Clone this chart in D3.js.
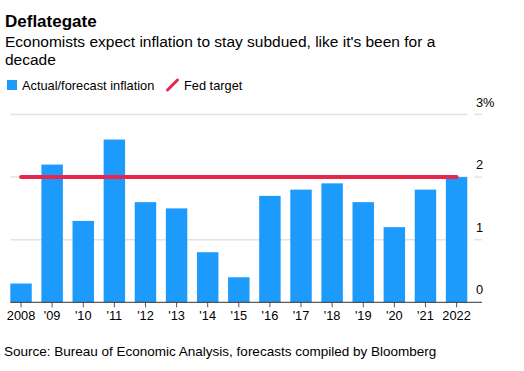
<!DOCTYPE html>
<html>
<head>
<meta charset="utf-8">
<script src="https://cdn.jsdelivr.net/npm/d3@7"></script>
<style>
  body { margin: 0; background: #fff; }
  svg text { font-family: "Liberation Sans", Arial, sans-serif; fill: #000; }
</style>
</head>
<body>
<div id="chart"></div>
<script>
// chart data
var years = ["2008","2009","2010","2011","2012","2013","2014","2015","2016","2017","2018","2019","2020","2021","2022"];
var yearLabels = ["2008","'09","'10","'11","'12","'13","'14","'15","'16","'17","'18","'19","'20","'21","2022"];
var inflation = [0.3, 2.2, 1.3, 2.6, 1.6, 1.5, 0.8, 0.4, 1.7, 1.8, 1.9, 1.6, 1.2, 1.8, 2.0];
var fedTarget = 2;
var yTicks = [0, 1, 2, 3];
var yTickLabels = ["0", "1", "2", "3%"];

var width = 524, height = 371;
var barColor = "#1d9bfd";
var redColor = "#e8264b";

var svg = d3.select("#chart").append("svg")
	.attr("width", width)
	.attr("height", height);

// titles
svg.append("text").attr("x", 5).attr("y", 27)
	.style("font-size", "17px").style("font-weight", "bold")
	.text("Deflategate");
svg.append("text").attr("x", 5).attr("y", 47)
	.style("font-size", "15.5px")
	.text("Economists expect inflation to stay subdued, like it's been for a");
svg.append("text").attr("x", 5).attr("y", 65)
	.style("font-size", "15.5px")
	.text("decade");

// legend
svg.append("rect").attr("x", 7).attr("y", 80).attr("width", 10).attr("height", 10).attr("fill", barColor);
svg.append("text").attr("x", 22).attr("y", 89.5).style("font-size", "12.8px").text("Actual/forecast inflation");
svg.append("line").attr("x1", 167.5).attr("y1", 90).attr("x2", 177.5).attr("y2", 80)
	.attr("stroke", redColor).attr("stroke-width", 3).attr("stroke-linecap", "round");
svg.append("text").attr("x", 184).attr("y", 89.5).style("font-size", "12.8px").text("Fed target");

// scales
var plotLeft = 10.3, plotRight = 467.3;
var x = d3.scaleBand().domain(years).range([plotLeft, plotRight]).paddingInner(0.31).paddingOuter(0);
var y = d3.scaleLinear().domain([0, 3]).range([302.3, 114.5]);

// gridlines
svg.selectAll("line.grid").data(yTicks.filter(function(d) { return d > 0; })).enter().append("line")
	.attr("class", "grid")
	.attr("x1", plotLeft).attr("x2", plotRight)
	.attr("y1", function(d) { return y(d); }).attr("y2", function(d) { return y(d); })
	.attr("stroke", "#e3e3e3").attr("stroke-width", 1.5);
svg.selectAll("line.gridtick").data(yTicks.filter(function(d) { return d > 0; })).enter().append("line")
	.attr("class", "gridtick")
	.attr("x1", 474).attr("x2", 482)
	.attr("y1", function(d) { return y(d); }).attr("y2", function(d) { return y(d); })
	.attr("stroke", "#e3e3e3").attr("stroke-width", 1.5);

// y labels
svg.selectAll("text.ylab").data(yTicks).enter().append("text")
	.attr("class", "ylab")
	.attr("x", 476).attr("y", function(d) { return y(d) - 8; })
	.style("font-size", "12.8px")
	.text(function(d, i) { return yTickLabels[i]; });

// bars
svg.selectAll("rect.bar").data(inflation).enter().append("rect")
	.attr("class", "bar")
	.attr("x", function(d, i) { return x(years[i]); })
	.attr("width", x.bandwidth())
	.attr("y", function(d) { return y(d); })
	.attr("height", function(d) { return y(0) - y(d); })
	.attr("fill", barColor);

// x axis
var xaxis = d3.axisBottom(x).tickSize(5).tickSizeOuter(0)
	.tickFormat(function(d, i) { return yearLabels[i]; });
var gx = svg.append("g").attr("class", "xaxis")
	.attr("transform", "translate(0," + y(0) + ")")
	.call(xaxis);
gx.select(".domain").remove();
gx.selectAll(".tick line").attr("stroke", "#555");
gx.selectAll(".tick text").attr("dy", "0.71em").attr("y", 9)
	.style("font-size", "12.8px").style("font-family", "'Liberation Sans', Arial, sans-serif").attr("fill", "#000");
svg.append("line").attr("x1", plotLeft).attr("x2", 482)
	.attr("y1", y(0)).attr("y2", y(0))
	.attr("stroke", "#333").attr("stroke-width", 1);

// fed target line
svg.append("line")
	.attr("x1", x(years[0]) + x.bandwidth() / 2)
	.attr("x2", x(years[years.length - 1]) + x.bandwidth() / 2)
	.attr("y1", y(fedTarget)).attr("y2", y(fedTarget))
	.attr("stroke", redColor).attr("stroke-width", 4).attr("stroke-linecap", "round");

// source
svg.append("text").attr("x", 4).attr("y", 355.5)
	.style("font-size", "13.5px")
	.text("Source: Bureau of Economic Analysis, forecasts compiled by Bloomberg");
</script>
</body>
</html>
